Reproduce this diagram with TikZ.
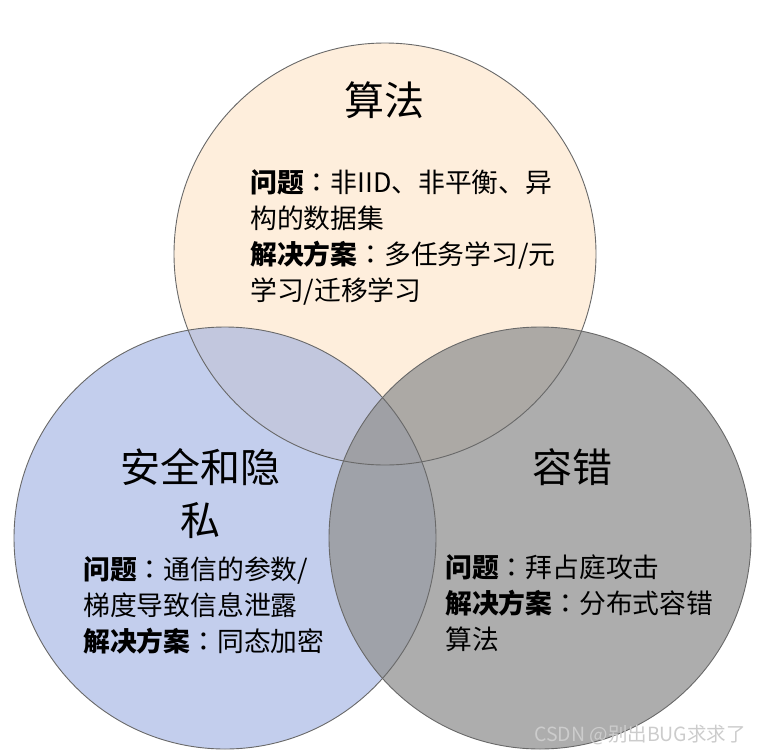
\documentclass[tikz,border=0pt]{standalone}
\usepackage{fontspec}
\newfontfamily\cjk{Noto Sans CJK SC}
\newfontfamily\cjktc{Noto Sans CJK TC}
\newcommand{\cc}{{\cjktc ：}}
\definecolor{topfill}{RGB}{254,238,220}
\definecolor{leftfill}{RGB}{150,170,225}
\definecolor{rightfill}{RGB}{150,150,150}
\definecolor{edge}{RGB}{105,105,105}
\begin{document}
\begin{tikzpicture}[x=1pt,y=-1pt,
  venn/.style={draw=edge,line width=0.9pt},
  title/.style={font={\cjk\fontsize{40}{53}\selectfont},align=center,inner sep=0pt},
  body/.style={font={\cjk\fontsize{26.8}{36}\selectfont},align=left,anchor=north west,inner sep=0pt},
  wmark/.style={font={\cjk\fontsize{19.5}{21}\selectfont},text=white!80!black,inner sep=0pt}
]
\useasboundingbox[fill=white] (0,0) rectangle (760,755);
% circles
\fill[topfill] (385,254) circle[radius=211pt];
\fill[leftfill,opacity=0.57] (225,538) circle[radius=211pt];
\fill[rightfill,opacity=0.78] (540,538) circle[radius=211pt];
\draw[venn] (385,254) circle[radius=211pt];
\draw[venn] (225,538) circle[radius=211pt];
\draw[venn] (540,538) circle[radius=211pt];
% titles
\node[title] (tA) at (384,100) {算法};
\node[title] (tB) at (200,494) {安全和隐\\私};
\node[title] (tC) at (572,467) {容错};
% bodies
\node[body] (bA) at (250,169) {{\bfseries 问题}\cc 非IID、非平衡、异\\构的数据集\\{\bfseries 解决方案}\cc 多任务学习/元\\学习/迁移学习};
\node[body] (bB) at (83,556) {{\bfseries 问题}\cc 通信的参数/\\梯度导致信息泄露\\{\bfseries 解决方案}\cc 同态加密};
\node[body] (bC) at (445,554) {{\bfseries 问题}\cc 拜占庭攻击\\{\bfseries 解决方案}\cc 分布式容错\\算法};
% watermark
\node[wmark,anchor=east] (wm) at (746,735) {CSDN @别出BUG求求了};
\end{tikzpicture}
\end{document}
